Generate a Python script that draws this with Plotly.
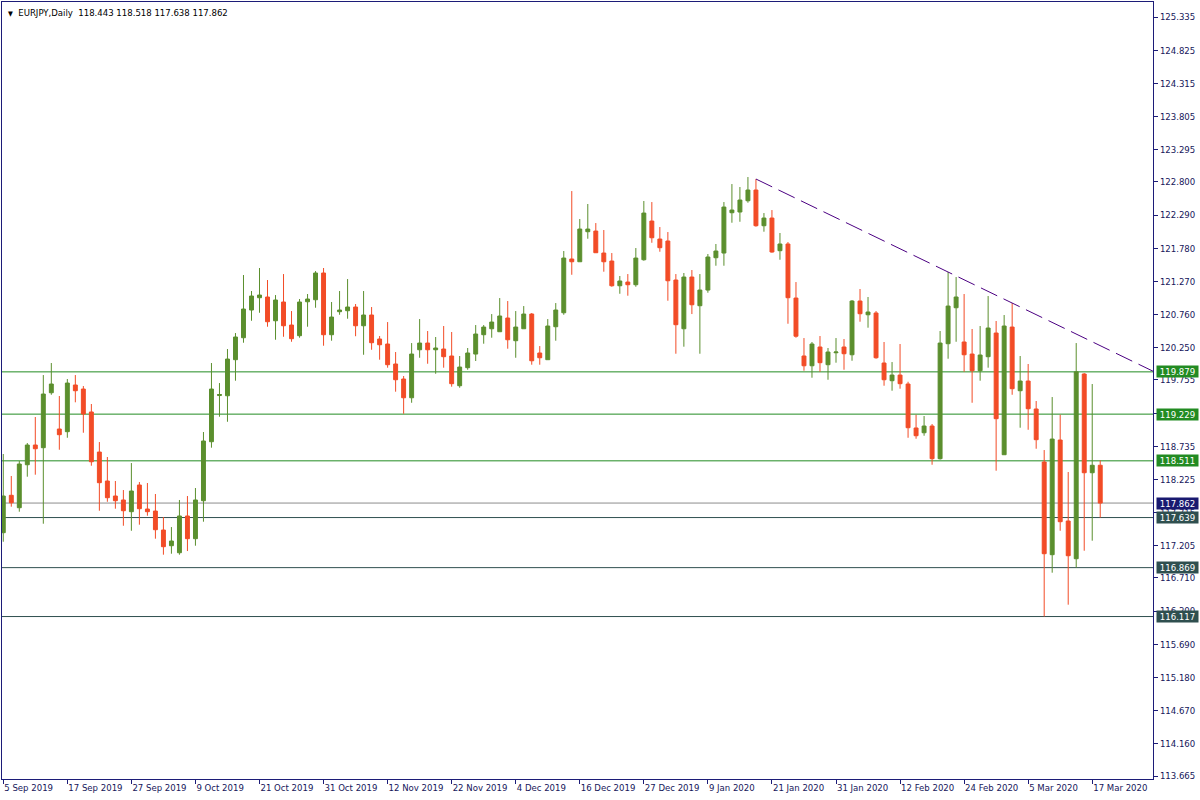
import plotly.graph_objects as go

# ---------------- data (EURJPY daily) ----------------
opens = [117.406, 117.981, 117.790, 118.451, 118.754, 118.713, 119.558, 119.000, 118.959, 119.677,
         119.615, 119.262, 118.646, 118.201, 117.970, 117.909, 117.729, 118.139, 117.770, 117.739,
         117.447, 117.206, 117.098, 117.663, 117.314, 117.898, 118.805, 119.515, 119.512, 120.066,
         120.404, 120.830, 121.019, 121.030, 120.665, 120.953, 120.599, 120.435, 120.957, 120.988,
         121.399, 120.450, 120.804, 120.819, 120.876, 120.588, 120.753, 120.384, 120.307, 120.000,
         119.769, 119.481, 120.219, 120.322, 120.219, 120.230, 120.123, 119.666, 119.943, 120.153,
         120.450, 120.542, 120.496, 120.707, 120.358, 120.542, 120.768, 120.169, 120.066, 120.573,
         120.788, 121.614, 121.572, 122.034, 122.044, 121.706, 121.583, 121.203, 121.260, 121.219,
         121.603, 122.198, 121.921, 121.891, 121.291, 120.542, 121.337, 120.896, 121.137, 121.634,
         121.706, 122.326, 122.337, 122.510, 122.675, 122.126, 122.244, 121.742, 121.845, 121.014,
         120.123, 119.973, 120.261, 119.989, 120.173, 120.261, 120.142, 120.968, 120.757, 120.784,
         120.015, 119.743, 119.830, 119.692, 119.016, 118.943, 119.046, 118.544, 120.312, 120.865,
         120.338, 120.153, 119.897, 120.112, 120.476, 118.605, 120.568, 119.589, 119.738, 119.308,
         118.493, 117.068, 118.831, 117.586, 117.006, 119.846, 118.328, 118.443]
highs = [118.616, 118.278, 118.508, 118.785, 119.185, 119.830, 120.015, 119.508, 119.769, 119.830,
         119.661, 119.385, 118.800, 118.570, 118.201, 118.062, 118.477, 118.185, 118.170, 118.001,
         117.647, 117.493, 117.909, 117.970, 118.093, 118.954, 120.015, 119.707, 120.230, 120.476,
         121.368, 121.122, 121.476, 121.291, 121.060, 121.383, 120.814, 120.999, 121.076, 121.429,
         121.476, 120.953, 121.122, 121.306, 120.922, 121.122, 120.876, 120.430, 120.645, 120.184,
         119.815, 120.322, 120.691, 120.507, 120.415, 120.584, 120.492, 120.123, 120.246, 120.599,
         120.599, 120.768, 121.014, 120.968, 120.814, 120.891, 120.784, 120.276, 120.691, 120.937,
         121.737, 122.659, 122.229, 122.460, 122.167, 122.060, 121.706, 121.353, 121.383, 121.783,
         122.506, 122.490, 122.106, 122.029, 121.383, 121.399, 121.445, 121.383, 121.691, 121.845,
         122.490, 122.767, 122.721, 122.875, 122.844, 122.321, 122.367, 122.014, 121.875, 121.260,
         120.399, 120.338, 120.430, 120.246, 120.399, 120.384, 120.984, 121.153, 121.030, 120.814,
         120.338, 120.030, 120.307, 119.727, 119.220, 119.200, 119.077, 120.507, 121.414, 121.337,
         121.076, 120.538, 120.584, 121.045, 120.661, 120.753, 120.937, 120.123, 120.000, 119.431,
         118.677, 119.492, 119.220, 118.339, 120.322, 119.860, 119.692, 118.518]
lows = [117.267, 117.806, 117.729, 118.267, 118.298, 117.544, 119.527, 118.682, 118.866, 119.411,
        118.943, 118.436, 117.744, 117.882, 117.775, 117.513, 117.436, 117.529, 117.667, 117.314,
        117.068, 117.083, 117.068, 117.124, 117.206, 117.575, 118.713, 119.189, 119.112, 119.743,
        120.327, 120.665, 120.788, 120.573, 120.373, 120.419, 120.342, 120.404, 120.573, 120.865,
        120.281, 120.358, 120.757, 120.696, 120.427, 120.142, 120.219, 120.066, 119.943, 119.574,
        119.235, 119.404, 120.096, 120.004, 119.850, 119.943, 119.651, 119.635, 119.912, 120.046,
        120.312, 120.404, 120.496, 120.235, 120.096, 120.542, 119.989, 119.989, 120.066, 120.358,
        120.757, 121.372, 121.572, 121.926, 121.711, 121.419, 121.188, 121.080, 121.050, 121.188,
        121.588, 121.864, 121.726, 120.973, 120.158, 120.266, 120.768, 120.158, 121.096, 121.511,
        121.511, 122.172, 122.187, 122.480, 122.111, 122.034, 121.711, 121.603, 120.619, 120.404,
        119.897, 119.789, 119.881, 119.758, 120.020, 119.912, 120.050, 120.650, 120.558, 120.081,
        119.666, 119.589, 119.620, 118.866, 118.851, 118.897, 118.451, 118.530, 120.081, 120.342,
        119.881, 119.404, 119.743, 119.943, 118.359, 118.605, 119.527, 119.020, 118.989, 118.697,
        116.117, 116.791, 117.436, 116.299, 116.869, 117.129, 117.283, 117.638]
closes = [117.970, 117.867, 118.462, 118.754, 118.697, 119.538, 119.692, 118.913, 119.707, 119.589,
          119.231, 118.497, 118.175, 117.944, 117.898, 117.744, 118.047, 117.775, 117.729, 117.452,
          117.191, 117.278, 117.663, 117.314, 117.909, 118.816, 119.615, 119.531, 120.076, 120.415,
          120.845, 121.045, 121.060, 120.650, 120.984, 120.588, 120.389, 120.953, 120.999, 121.399,
          120.450, 120.722, 120.830, 120.876, 120.588, 120.753, 120.327, 120.296, 119.989, 119.758,
          119.481, 120.153, 120.322, 120.219, 120.246, 120.112, 119.697, 119.953, 120.169, 120.461,
          120.568, 120.645, 120.738, 120.373, 120.568, 120.768, 120.050, 120.096, 120.584, 120.830,
          121.629, 121.572, 122.075, 122.075, 121.711, 121.572, 121.203, 121.276, 121.219, 121.629,
          122.321, 121.941, 121.788, 121.280, 120.604, 121.337, 120.911, 121.137, 121.645, 121.737,
          122.413, 122.367, 122.521, 122.675, 122.126, 122.244, 121.722, 121.845, 121.019, 120.427,
          119.973, 120.307, 120.020, 120.184, 120.184, 120.158, 120.968, 120.773, 120.799, 120.096,
          119.758, 119.830, 119.697, 119.020, 118.897, 119.046, 118.544, 120.322, 120.891, 121.030,
          120.142, 119.897, 120.138, 120.553, 119.159, 120.584, 119.620, 119.738, 119.312, 118.836,
          117.083, 118.846, 117.575, 117.052, 119.879, 118.328, 118.443, 117.862]

date_labels = ["5 Sep 2019", "17 Sep 2019", "27 Sep 2019", "9 Oct 2019", "21 Oct 2019",
               "31 Oct 2019", "12 Nov 2019", "22 Nov 2019", "4 Dec 2019", "16 Dec 2019",
               "27 Dec 2019", "9 Jan 2020", "21 Jan 2020", "31 Jan 2020", "12 Feb 2020",
               "24 Feb 2020", "5 Mar 2020", "17 Mar 2020"]
bars_per_label = 8

price_ticks = [125.335, 124.825, 124.315, 123.805, 123.295, 122.800, 122.290, 121.780,
               121.270, 120.760, 120.250, 119.755, 119.245, 118.735, 118.225, 117.715,
               117.205, 116.710, 116.200, 115.690, 115.180, 114.670, 114.160, 113.665]

green_levels = [119.879, 119.229, 118.511]
dark_levels = [117.639, 116.869, 116.117]
bid_level = 117.862
trend_anchors = [94, 118]   # bars whose highs define the trendline

title_text = "EURJPY,Daily  118.443 118.518 117.638 117.862"

# ---------------- styling ----------------
BULL = "#5b8f2e"
BEAR = "#f24c27"
FRAME = "#1c1c78"
TXT = "#16165a"
GREEN_LINE = "#228b22"
DARK_LINE = "#2f4f4f"
BID_LINE = "#8c8c8c"
BID_BOX = "#191970"
TREND = "#4b0082"
FONT = "Tahoma, 'DejaVu Sans Condensed', 'Liberation Sans', sans-serif"

n = len(opens)
xs = list(range(n))
x_lo, x_hi = -0.16, 143.59
y_lo, y_hi = 113.619, 125.566

fig = go.Figure()

fig.add_trace(go.Candlestick(
    x=xs, open=opens, high=highs, low=lows, close=closes,
    increasing=dict(line=dict(color=BULL, width=1), fillcolor=BULL),
    decreasing=dict(line=dict(color=BEAR, width=1), fillcolor=BEAR),
    whiskerwidth=0, showlegend=False, hoverinfo="skip",
))

# trendline through the two highs, extended as a ray to the right edge
a, b = trend_anchors
slope = (highs[b] - highs[a]) / (b - a)
fig.add_trace(go.Scatter(
    x=[a, x_hi], y=[highs[a], highs[a] + slope * (x_hi - a)],
    mode="lines", line=dict(color=TREND, width=1, dash="18px,7px"),
    showlegend=False, hoverinfo="skip",
))

shapes = []
annotations = []


def level(y, color, box_color):
    shapes.append(dict(type="line", xref="paper", yref="y", x0=0, x1=1, y0=y, y1=y,
                       line=dict(color=color, width=1), layer="below"))
    annotations.append(dict(xref="paper", yref="y", x=1, y=y, xanchor="left", yanchor="middle",
                            xshift=3, text=f"{y:.3f}", showarrow=False,
                            font=dict(family=FONT, size=9.5, color="white"),
                            bgcolor=box_color, width=41, height=11, borderpad=0, align="center"))


for lv in green_levels:
    level(lv, GREEN_LINE, GREEN_LINE)
for lv in dark_levels:
    level(lv, DARK_LINE, DARK_LINE)
level(bid_level, BID_LINE, BID_BOX)

annotations.append(dict(xref="paper", yref="paper", x=0, y=1, xanchor="left", yanchor="top",
                        xshift=4, yshift=-3, showarrow=False,
                        text="<span style='font-size:7px'>▼</span>  " + title_text,
                        font=dict(family=FONT, size=9.5, color="#000000")))

fig.update_layout(
    width=1200, height=800,
    margin=dict(l=2, r=47, t=2, b=21, pad=0),
    paper_bgcolor="white", plot_bgcolor="white",
    showlegend=False, shapes=shapes, annotations=annotations,
    font=dict(family=FONT, size=9.5, color=TXT),
    xaxis=dict(
        range=[x_lo, x_hi], rangeslider=dict(visible=False),
        tickvals=[i * bars_per_label for i in range(len(date_labels))],
        ticktext=date_labels, ticklabelposition="outside right",
        ticks="outside", ticklen=4, tickcolor=FRAME, tickwidth=1,
        showgrid=False, zeroline=False,
        showline=True, linecolor=FRAME, linewidth=1, mirror=True,
        tickfont=dict(family=FONT, size=9.5, color=TXT),
    ),
    yaxis=dict(
        range=[y_lo, y_hi], side="right",
        tickvals=price_ticks, ticktext=[f"{v:.3f}" for v in price_ticks],
        ticks="outside", ticklen=4, tickcolor=FRAME, tickwidth=1,
        showgrid=False, zeroline=False,
        showline=True, linecolor=FRAME, linewidth=1, mirror=True,
        tickfont=dict(family=FONT, size=9.5, color=TXT),
    ),
)

fig.write_html("out.html", config={"displayModeBar": False},
               post_script="document.body.style.margin='0';document.body.style.overflow='hidden';")
